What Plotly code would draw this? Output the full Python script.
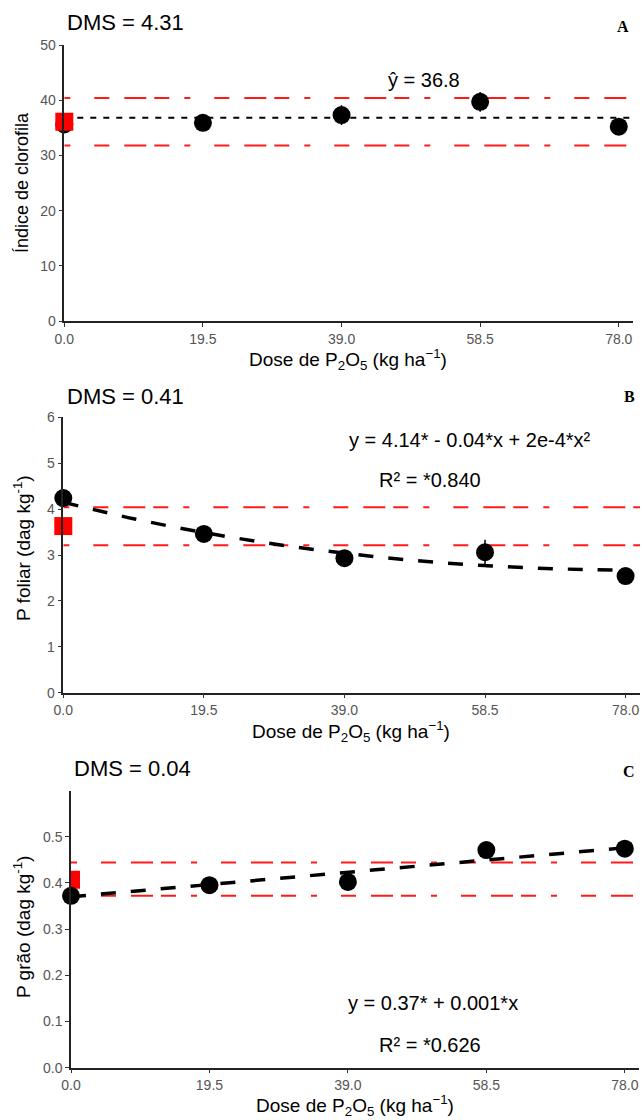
import plotly.graph_objects as go

# ---------------- data ----------------
doses = [0, 19.5, 39.0, 58.5, 78.0]
dose_labels = ["0.0", "19.5", "39.0", "58.5", "78.0"]

# Panel A - chlorophyll index
clorofila = [35.6, 35.9, 37.3, 39.7, 35.2]
clorofila_err = [1.5, 0.8, 1.8, 1.8, 0.8]
clorofila_control = 36.1
clorofila_mean = 36.8
clorofila_limits = [40.4, 31.8]

# Panel B - leaf P
p_foliar = [4.24, 3.46, 2.93, 3.06, 2.54]
p_foliar_err = [0.1, 0.1, 0.1, 0.27, 0.1]
p_foliar_control = 3.63
p_foliar_limits = [4.04, 3.21]
p_foliar_fit_x = [0, 9.75, 19.5, 29.25, 39.0, 48.75, 58.5, 68.25, 78.0]
p_foliar_fit_y = [4.15, 3.79, 3.49, 3.24, 3.04, 2.88, 2.77, 2.70, 2.67]

# Panel C - grain P
p_grao = [0.372, 0.395, 0.402, 0.471, 0.474]
p_grao_err = [0.008, 0.008, 0.012, 0.008, 0.008]
p_grao_control = 0.407
p_grao_limits = [0.444, 0.372]
p_grao_fit_x = [0, 78.0]
p_grao_fit_y = [0.370, 0.476]

# ---------------- layout helpers ----------------
W, H = 642, 1120
def fx(px):
    return px / W
def fy(py):
    return 1 - py / H

FONT = "Liberation Sans, Arial, sans-serif"
RED = "#FF1A1A"
RED_DASH = "6px,24px,15px,15px,22px,8px,15px,15px"
X_END = 80

fig = go.Figure()

panels = [
    # name, x0px, x80px, y0px, ytop_px, yrange
    ("", 64.3, 633.0, 321.0, 45.0, [0, 50]),
    ("2", 63.3, 640.0, 692.7, 417.3, [0, 6]),
    ("3", 71.0, 639.0, 1067.7, 790.5, [0, 0.6]),
]

def add_points(ax, ay, ys, errs, clip=False):
    fig.add_trace(go.Scatter(
        x=doses, y=ys, mode="markers", xaxis=ax, yaxis=ay,
        marker=dict(color="black", size=18, symbol="circle"),
        error_y=dict(type="data", array=errs, color="black", thickness=1.5, width=0),
        cliponaxis=clip, showlegend=False, hoverinfo="skip"))

def add_control(ax, ay, val, clip=False):
    fig.add_trace(go.Scatter(
        x=[0], y=[val], mode="markers", xaxis=ax, yaxis=ay,
        marker=dict(color="#FF0000", size=18, symbol="square"),
        cliponaxis=clip, showlegend=False, hoverinfo="skip"))

def add_limits(ax, ay, limits):
    for v in limits:
        fig.add_trace(go.Scatter(
            x=[0, X_END], y=[v, v], mode="lines", xaxis=ax, yaxis=ay,
            line=dict(color=RED, width=2, dash=RED_DASH),
            showlegend=False, hoverinfo="skip"))

# Panel A
add_limits("x", "y", clorofila_limits)
fig.add_trace(go.Scatter(
    x=[0, X_END], y=[clorofila_mean, clorofila_mean], mode="lines", xaxis="x", yaxis="y",
    line=dict(color="black", width=2, dash="6px,7px"), showlegend=False, hoverinfo="skip"))
add_points("x", "y", clorofila, clorofila_err)
add_control("x", "y", clorofila_control)

# Panel B
add_limits("x2", "y2", p_foliar_limits)
add_control("x2", "y2", p_foliar_control)
add_points("x2", "y2", p_foliar, p_foliar_err)
fig.add_trace(go.Scatter(
    x=p_foliar_fit_x, y=p_foliar_fit_y, mode="lines", xaxis="x2", yaxis="y2",
    line=dict(color="black", width=3.5, dash="15px,15px", shape="spline"),
    showlegend=False, hoverinfo="skip"))

# Panel C
add_limits("x3", "y3", p_grao_limits)
add_control("x3", "y3", p_grao_control, clip=True)
add_points("x3", "y3", p_grao, p_grao_err)
fig.add_trace(go.Scatter(
    x=p_grao_fit_x, y=p_grao_fit_y, mode="lines", xaxis="x3", yaxis="y3",
    line=dict(color="black", width=3.5, dash="15px,15px"),
    showlegend=False, hoverinfo="skip"))

layout = dict(
    width=W, height=H, autosize=False,
    margin=dict(l=0, r=0, t=0, b=0, pad=0),
    paper_bgcolor="white", plot_bgcolor="white",
    showlegend=False,
)

tick_font = dict(family=FONT, size=14, color="#555555")
for name, x0, x80, y0, ytop, yr in panels:
    layout["xaxis" + name] = dict(
        domain=[fx(x0), fx(x80)], range=[0, X_END],
        anchor="y" + name, tickvals=doses, ticktext=dose_labels,
        showline=True, linecolor="#222222", linewidth=1.5,
        ticks="outside", ticklen=4, tickwidth=1.3, tickcolor="#333333",
        showgrid=False, zeroline=False, tickfont=tick_font, fixedrange=True,
        automargin=False)
    if yr[1] == 0.6:
        yt = dict(tickvals=[0, 0.1, 0.2, 0.3, 0.4, 0.5],
                  ticktext=["0.0", "0.1", "0.2", "0.3", "0.4", "0.5"])
    elif yr[1] == 6:
        yt = dict(tickvals=[0, 1, 2, 3, 4, 5, 6])
    else:
        yt = dict(tickvals=[0, 10, 20, 30, 40, 50])
    layout["yaxis" + name] = dict(
        domain=[fy(y0), fy(ytop)], range=yr, anchor="x" + name,
        showline=True, linecolor="#222222", linewidth=1.5,
        ticks="outside", ticklen=4, tickwidth=1.3, tickcolor="#333333",
        showgrid=False, zeroline=False, tickfont=tick_font, fixedrange=True,
        automargin=False, **yt)

fig.update_layout(**layout)

def note(text, xpx, ypx, size=18, xanchor="center", family=FONT, angle=0, color="black"):
    fig.add_annotation(
        text=text, x=fx(xpx), y=fy(ypx), xref="paper", yref="paper",
        showarrow=False, xanchor=xanchor, yanchor="middle", textangle=angle,
        font=dict(family=family, size=size, color=color))

serif = "Liberation Serif, Times New Roman, serif"
xtitle = "Dose de P<sub>2</sub>O<sub>5</sub> (kg ha<sup>\u22121</sup>)"

# Panel A texts
note("DMS = 4.31", 65, 22, size=22, xanchor="left")
note("<b>A</b>", 623, 26, size=16, family=serif)
note("y\u0302 = 36.8", 424, 80, size=20)
note("\u00cdndice de clorofila", 22, 183, size=18, angle=-90)
note(xtitle, 348, 359, size=19)

# Panel B texts
note("DMS = 0.41", 65, 396, size=22, xanchor="left")
note("<b>B</b>", 629, 397, size=16, family=serif)
note("y = 4.14* - 0.04*x + 2e-4*x\u00b2", 470, 440, size=20)
note("R\u00b2 = *0.840", 430, 480, size=20)
note("P foliar (dag kg<sup>-1</sup>)", 22, 548, size=19, angle=-90)
note(xtitle, 351, 731, size=19)

# Panel C texts
note("DMS = 0.04", 72, 768, size=22, xanchor="left")
note("<b>C</b>", 629, 771, size=16, family=serif)
note("y = 0.37* + 0.001*x", 433, 1003, size=20)
note("R\u00b2 = *0.626", 430, 1045, size=20)
note("P gr\u00e3o (dag kg<sup>-1</sup>)", 22, 927, size=19, angle=-90)
note(xtitle, 355, 1105, size=19)

fig.write_html("out.html", config={"displayModeBar": False})

# remove the default page margin so the figure sits at the window's top-left corner
with open("out.html", "r", encoding="utf-8") as f:
    html = f.read()
html = html.replace("<head>", "<head><style>html,body{margin:0;padding:0;overflow:hidden;}</style>", 1)
with open("out.html", "w", encoding="utf-8") as f:
    f.write(html)
